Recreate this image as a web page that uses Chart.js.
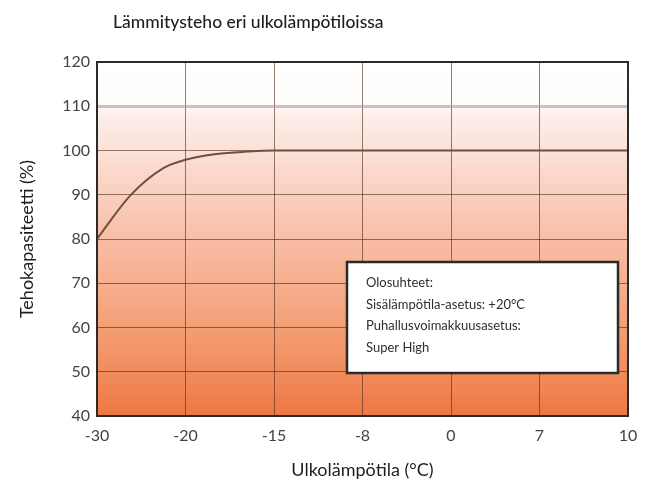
<!DOCTYPE html>
<html><head><meta charset="utf-8">
<script src="https://cdn.jsdelivr.net/npm/chart.js@4"></script>
<style>html,body{margin:0;padding:0;background:#fff}#wrap{width:660px;height:487px}</style>
</head><body><div id="wrap"><canvas id="c" width="660" height="487"></canvas></div>
<script>
const chartTitle = 'Lämmitysteho eri ulkolämpötiloissa';
const xTitle = 'Ulkolämpötila (°C)';
const yTitle = 'Tehokapasiteetti (%)';
const tickLabels = ['-30', '-20', '-15', '-8', '0', '7', '10'];
// position along the x axis in tick steps (0 = -30, 6 = 10)
const curveX = [0, 0.375, 0.75, 1, 1.35, 1.7, 2, 3, 4, 5, 6];
const curveY = [80, 89.8, 96, 97.9, 99.2, 99.75, 100, 100, 100, 100, 100];
const noteLines = ['Olosuhteet:', 'Sisälämpötila-asetus: +20°C', 'Puhallusvoimakkuusasetus:', 'Super High'];

const FONT = 'Lato, "Open Sans", sans-serif';

const bgPlugin = {
  id: 'bg',
  beforeDraw(chart) {
    const {ctx, chartArea: a, scales: {y}} = chart;
    const g = ctx.createLinearGradient(0, a.top, 0, a.bottom);
    const stop = (v, c) => g.addColorStop((y.getPixelForValue(v) - a.top) / (a.bottom - a.top), c);
    stop(120, '#ffffff'); stop(111, '#fffdfc'); stop(108, '#fdeeea');
    stop(100, '#fbe1d7'); stop(80, '#f8bea5'); stop(60, '#f39f76'); stop(40, '#ee7842');
    ctx.save(); ctx.fillStyle = g; ctx.fillRect(a.left, a.top, a.right - a.left, a.bottom - a.top); ctx.restore();
  },
  afterDraw(chart) {
    const {ctx, chartArea: a} = chart;
    ctx.save();
    ctx.strokeStyle = '#2a2a2a'; ctx.lineWidth = 2;
    ctx.strokeRect(a.left, a.top, a.right - a.left, a.bottom - a.top);
    ctx.fillStyle = '#1e1e1e'; ctx.font = '500 17.5px ' + FONT; ctx.textBaseline = 'middle'; ctx.textAlign = 'left';
    ctx.fillText(chartTitle, 113, 22);
    const bx = 347, by = 262, bw = 271, bh = 111;
    ctx.fillStyle = '#ffffff'; ctx.fillRect(bx, by, bw, bh);
    ctx.strokeStyle = '#2a2a2a'; ctx.lineWidth = 2.5; ctx.strokeRect(bx, by, bw, bh);
    ctx.fillStyle = '#2e2e2e'; ctx.font = '13px ' + FONT;
    noteLines.forEach((t, i) => ctx.fillText(t, 366, 283 + i * 21.5));
    ctx.restore();
  }
};

new Chart(document.getElementById('c'), {
  type: 'scatter',
  data: {
    datasets: [{
      data: curveX.map((x, i) => ({x, y: curveY[i]})),
      showLine: true,
      borderColor: '#6e5040',
      borderWidth: 2,
      pointRadius: 0,
      cubicInterpolationMode: 'monotone',
      fill: false
    }]
  },
  options: {
    responsive: false,
    animation: false,
    layout: {padding: {top: 62, right: 32, left: 0, bottom: 0}},
    plugins: {legend: {display: false}, tooltip: {enabled: false}, title: {display: false}},
    scales: {
      x: {
        type: 'linear', min: 0, max: tickLabels.length - 1,
        afterFit(s) { s.height = 71; },
        grid: {color: 'rgba(75,40,25,0.6)', lineWidth: 1, drawTicks: false},
        border: {display: false},
        ticks: {stepSize: 1, padding: 10, color: '#444', font: {family: FONT, size: 16},
          callback: v => tickLabels[v] ?? ''},
        title: {display: true, text: xTitle, color: '#1e1e1e', font: {family: FONT, size: 18}, padding: {top: 0, bottom: 6}}
      },
      y: {
        min: 40, max: 120,
        afterFit(s) { s.width = 97; },
        grid: {color: ctx => ctx.tick && ctx.tick.value === 110 ? 'rgba(160,160,160,0.6)' : 'rgba(75,40,25,0.6)',
               lineWidth: ctx => ctx.tick && ctx.tick.value === 110 ? 3 : 1, drawTicks: false},
        border: {display: false},
        ticks: {stepSize: 10, padding: 7, color: '#444', font: {family: FONT, size: 16}},
        title: {display: true, text: yTitle, color: '#1e1e1e', font: {family: FONT, size: 18}, padding: {top: 16, bottom: 0}}
      }
    }
  },
  plugins: [bgPlugin]
});
</script>
</body></html>
